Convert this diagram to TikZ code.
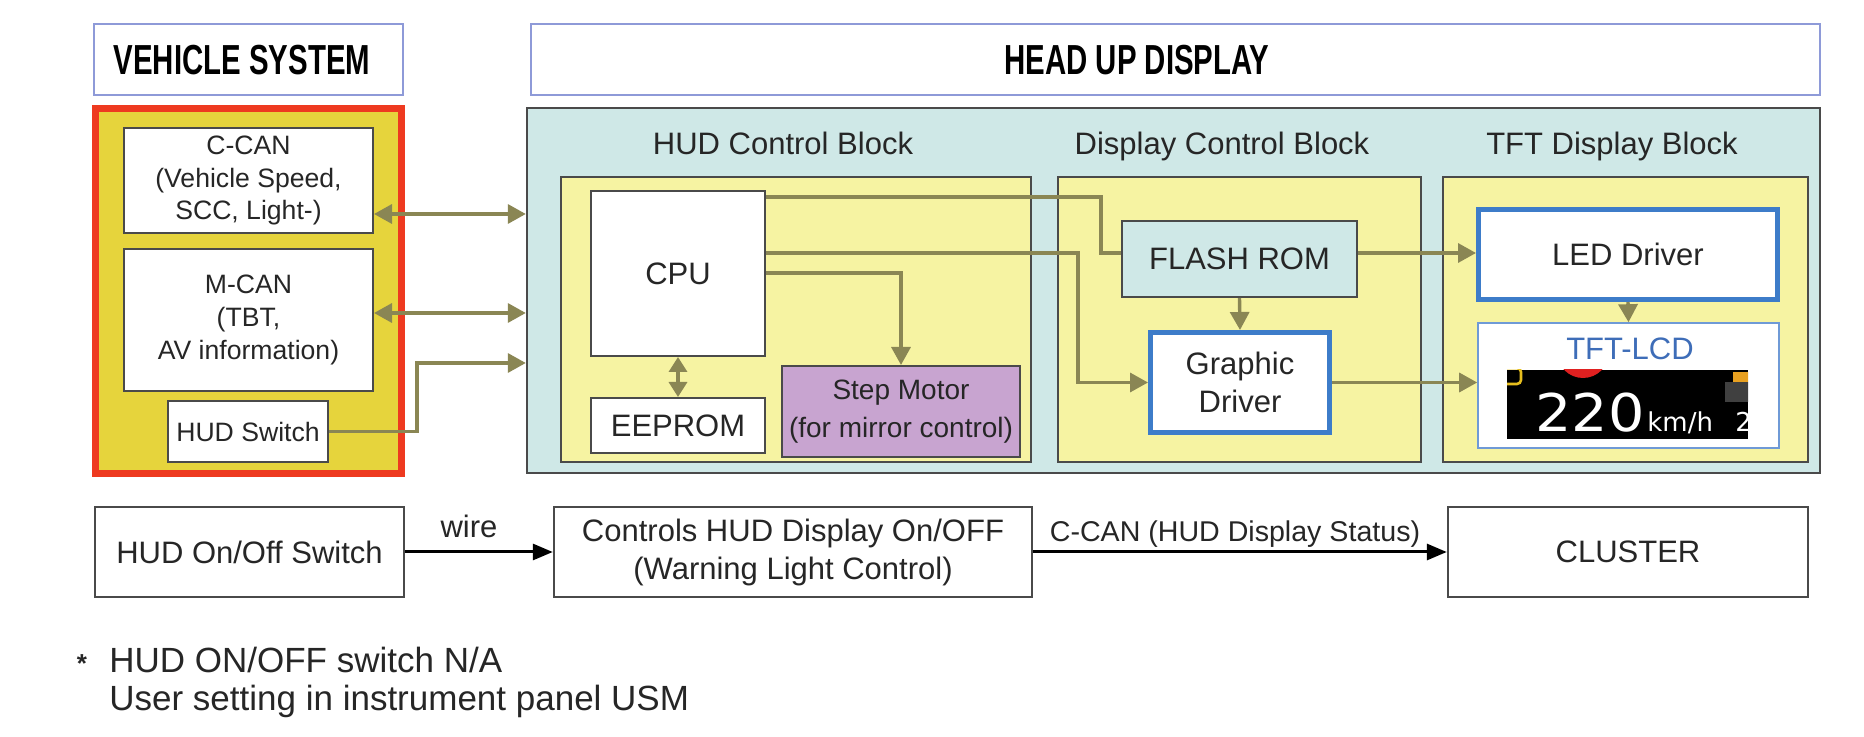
\documentclass[tikz,border=0pt]{standalone}
\usepackage{fontspec}
\setmainfont{Liberation Sans}
\newfontfamily\hdrfont[FakeStretch=0.70]{Liberation Sans}
\newfontfamily\lcdfont[FakeStretch=1.1]{DejaVu Sans}
\newfontfamily\lcdsm{DejaVu Sans}
\usetikzlibrary{arrows.meta}
\definecolor{cyanbg}{HTML}{CFE8E7}
\definecolor{ylw}{HTML}{F6F3A2}
\definecolor{gold}{HTML}{E6D43C}
\definecolor{redb}{HTML}{EE3A20}
\definecolor{purp}{HTML}{C8A4D0}
\definecolor{blueb}{HTML}{3D7CC9}
\definecolor{lcdb}{HTML}{6F9AD6}
\definecolor{hdrb}{HTML}{8E9AD8}
\definecolor{conncol}{HTML}{8A8654}
\definecolor{txt}{HTML}{262626}
\definecolor{edge}{HTML}{4A4A4A}
\definecolor{lcdblue}{HTML}{3E6DB8}
\definecolor{lcdyel}{HTML}{E6BE1E}
\definecolor{lcdorg}{HTML}{E8A020}
\definecolor{lcdred}{HTML}{E02020}
\newcommand{\bx}[7]{\node[#6,minimum width={(#4-#2)*0.5pt},minimum height={(#5-#3)*0.5pt}] (#1) at ({(#2+#4)/2},{(#3+#5)/2}) {#7};}
\tikzset{
  box/.style={draw=edge, line width=1pt, fill=white, inner sep=0pt, align=center, text=txt, font=\fontsize{15.5}{19}\selectfont},
  sbox/.style={box, font=\fontsize{13.3}{16.4}\selectfont},
  stepbox/.style={box, fill=purp, font=\fontsize{14}{19}\selectfont},
  flashbox/.style={box, fill=cyanbg},
  bluebox/.style={box, draw=blueb, line width=2.5pt},
  lcdbox/.style={box, draw=lcdb, line width=0.8pt},
  bbox/.style={box, line width=1.2pt},
  hdr/.style={draw=hdrb, line width=1.3pt, fill=white, inner sep=0pt},
  hdrtext/.style={inner sep=0pt, text=black, font=\hdrfont\bfseries\fontsize{21}{24}\selectfont},
  vehbox/.style={draw=redb, line width=3.5pt, fill=gold, inner sep=0pt},
  hudbox/.style={draw=edge, line width=1.2pt, fill=cyanbg, inner sep=0pt},
  ylwbox/.style={draw=edge, line width=1pt, fill=ylw, inner sep=0pt},
  ttl/.style={anchor=base, inner sep=0pt, text=txt, font=\fontsize{15.5}{19}\selectfont},
  lbl/.style={anchor=base, inner sep=0pt, text=txt, font=\fontsize{15.5}{19}\selectfont},
  conn/.style={draw=conncol, line width=1.7pt},
  otip/.tip={Triangle[length=9pt,width=9.5pt]},
  etip/.tip={Triangle[length=7.5pt,width=9pt]},
  btip/.tip={Triangle[length=10pt,width=8pt]},
  barr/.style={draw=black, line width=1.5pt, -btip},
  foot/.style={anchor=base west, inner sep=0pt, text=txt, font=\fontsize{17.5}{21}\selectfont}
}
\begin{document}
\begin{tikzpicture}[x=0.5pt,y=-0.5pt]
\useasboundingbox[fill=white] (0,0) rectangle (1864,737);

% headers
\bx{vs}{94}{24}{403}{95}{hdr}{}
\node[hdrtext] (vst) at (242,60) {VEHICLE SYSTEM};
\bx{hd}{531}{24}{1820}{95}{hdr}{}
\node[hdrtext] (hdt) at (1137,60) {HEAD UP DISPLAY};

% vehicle system
\bx{veh}{95.5}{108.5}{401.5}{473.5}{vehbox}{}
\bx{ccan}{124}{128}{373}{233}{sbox}{C-CAN\\(Vehicle Speed,\\SCC, Light-)}
\bx{mcan}{124}{249}{373}{391}{sbox}{M-CAN\\(TBT,\\AV information)}
\bx{hsw}{168}{401}{328}{462}{sbox}{HUD Switch}

% head up display
\bx{hud}{527}{108}{1820}{473}{hudbox}{}
\node[ttl] (t1) at (783,155) {HUD Control Block};
\node[ttl] (t2) at (1222,155) {Display Control Block};
\node[ttl] (t3) at (1612,155) {TFT Display Block};
\bx{y1}{561}{177}{1031}{462}{ylwbox}{}
\bx{y2}{1058}{177}{1421}{462}{ylwbox}{}
\bx{y3}{1443}{177}{1808}{462}{ylwbox}{}

\bx{cpu}{591}{191}{765}{356}{box}{CPU}
\bx{eeprom}{591}{398}{765}{453}{box}{EEPROM}
\bx{step}{782}{366}{1020}{457}{stepbox}{Step Motor\\(for mirror control)}
\bx{flash}{1122}{221}{1357}{297}{flashbox}{FLASH ROM}
\bx{gd}{1150.5}{332.5}{1329.5}{432.5}{bluebox}{Graphic\\Driver}
\bx{led}{1478.5}{209.5}{1777.5}{299.5}{bluebox}{LED Driver}
\bx{lcd}{1478}{323}{1779}{448}{lcdbox}{}
\node[inner sep=0pt, text=lcdblue, font=\fontsize{15.5}{19}\selectfont] (lcdt) at (1630,349) {TFT-LCD};

% LCD picture
\fill[black] (1507,370) rectangle (1748,439);
\begin{scope}
  \clip (1507,370) rectangle (1748,439);
  \fill[lcdred] (1583,352) circle[radius=13pt];
  \fill[black] (1583,350) circle[radius=9.5pt];
  \draw[draw=lcdyel, line width=1.3pt, rounded corners=2pt] (1496,368) rectangle (1521,384);
  \fill[lcdorg] (1733,372) rectangle (1750,382);
  \fill[black!75] (1725,382) rectangle (1750,402);
  \node[anchor=base west, inner sep=0pt, text=white, font=\lcdsm\fontsize{13}{13}\selectfont] (zz) at (1735,432) {2};
\end{scope}
\node[anchor=base west, inner sep=0pt, text=white, font=\lcdfont\fontsize{26}{26}\selectfont] (spd) at (1535,432) {220};
\node[anchor=base west, inner sep=0pt, text=white, font=\lcdsm\fontsize{13}{13}\selectfont] (kmh) at (1647,432) {km/h};

% connectors
\draw[conn, otip-otip] (ccan.east |- 0,214) -- (hud.west |- 0,214);
\draw[conn, otip-otip] (mcan.east |- 0,313) -- (hud.west |- 0,313);
\draw[conn, -otip] (hsw.east) -| (417,363) -- (hud.west |- 0,363);
\draw[conn, etip-etip] (cpu.south) -- (eeprom.north);
\draw[conn, -otip] (cpu.east |- 0,273) -| (step.north);
\draw[conn] (cpu.east |- 0,197) -| (1101,253) -- (flash.west |- 0,253);
\draw[conn, -otip] (cpu.east |- 0,253) -| (1078,382.5) -- (gd.west);
\draw[conn, -otip] (flash.south) -- (gd.north);
\draw[conn, -otip] (flash.east |- 0,253) -- (led.west |- 0,253);
\draw[conn, -otip] (gd.east) -- (lcd.west |- gd.east);
\draw[conn, -otip] (led.south) -- (lcd.north);

% bottom row
\bx{onoff}{95}{507}{404}{597}{bbox}{HUD On/Off Switch}
\bx{ctrl}{554}{507}{1032}{597}{bbox}{Controls HUD Display On/OFF\\(Warning Light Control)}
\bx{clus}{1448}{507}{1808}{597}{bbox}{CLUSTER}
\draw[barr] (onoff.east) -- node[lbl, yshift=7pt, xshift=-5pt] (wl) {wire} (ctrl.west);
\draw[barr] (ctrl.east) -- node[lbl, yshift=5pt, xshift=-2.5pt, font=\fontsize{14.3}{17}\selectfont] (cl) {C-CAN (HUD Display Status)} (clus.west);

% footnote
\node[anchor=base, inner sep=0pt, text=txt, font=\bfseries\fontsize{13}{13}\selectfont] (star) at (82,672) {*};
\node[foot] (fn1) at (109,672) {HUD ON/OFF switch N/A};
\node[foot] (fn2) at (109,710) {User setting in instrument panel USM};
\end{tikzpicture}
\end{document}
